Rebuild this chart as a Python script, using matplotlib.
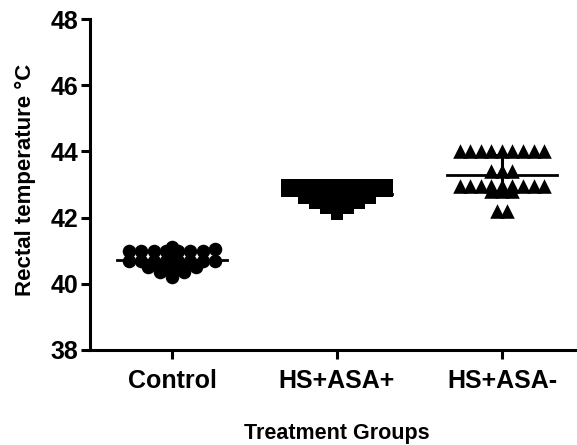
import numpy as np
import matplotlib
matplotlib.use("Agg")
import matplotlib.pyplot as plt

plt.rcParams['font.family'] = ['Liberation Sans', 'DejaVu Sans']
plt.rcParams['font.weight'] = 'bold'

groups = ['Control', 'HS+ASA+', 'HS+ASA-']
control = [41.1, 41.0, 41.0, 41.0, 41.0, 41.0, 41.0, 41.0, 41.05,
           40.7, 40.7, 40.7, 40.7, 40.7, 40.7, 40.7, 40.7,
           40.5, 40.5, 40.5, 40.5, 40.5,
           40.35, 40.35, 40.35,
           40.2]
hs_asa_pos = [43.0] * 10 + [42.8] * 10 + [42.6] * 7 + [42.45] * 5 + [42.3] * 3 + [42.1]
hs_asa_neg = [44.0] * 9 + [43.4] * 3 + [42.95] * 9 + [42.8] * 3 + [42.2] * 2
yticks = [38, 40, 42, 44, 46, 48]


def spread(vals, step, gap):
    # put equal (binned) values side by side, centred on the column
    vals = np.asarray(vals, dtype=float)
    bins = np.round(vals / step).astype(int)
    off = np.zeros(len(vals))
    for b in np.unique(bins):
        idx = np.where(bins == b)[0]
        n = len(idx)
        off[idx] = (np.arange(n) - (n - 1) / 2) * gap
    return off


fig = plt.figure(figsize=(5.77, 4.45), dpi=100)
ax = fig.add_axes([0.156, 0.2135, 0.844, 0.7435])

data = [control, hs_asa_pos, hs_asa_neg]
markers = ['o', 's', '^']
sizes = [95, 75, 110]
gaps = [0.074, 0.067, 0.064]
steps = [0.1, 0.1, 0.1]

for i, vals in enumerate(data):
    xs = i + spread(vals, steps[i], gaps[i])
    ax.scatter(xs, vals, marker=markers[i], s=sizes[i], c='black',
               linewidths=0, zorder=3)
    m = np.mean(vals)
    sd = np.std(vals, ddof=1)
    ax.plot([i - 0.335, i + 0.335], [m, m], color='black', lw=2, zorder=4)
    ax.plot([i, i], [m - sd, m + sd], color='black', lw=2.2, zorder=4)
    ax.plot([i - 0.08, i + 0.08], [m + sd, m + sd], color='black', lw=2, zorder=4)
    ax.plot([i - 0.08, i + 0.08], [m - sd, m - sd], color='black', lw=2, zorder=4)

ax.set_xlim(-0.497, 2.455)
ax.set_ylim(38, 48)
ax.set_yticks(yticks)
ax.set_xticks(range(len(groups)))
ax.set_xticklabels(groups)

for s in ['top', 'right']:
    ax.spines[s].set_visible(False)
for s in ['left', 'bottom']:
    ax.spines[s].set_linewidth(2.2)
ax.tick_params(width=2.2, length=6.5, labelsize=18, pad=2)
ax.tick_params(axis='x', pad=7)

fig.text(25 / 577, 1 - 180 / 445, 'Rectal temperature °C', rotation=90,
         ha='center', va='center', fontsize=16, fontweight='bold')
fig.text(337 / 577, 1 - 433 / 445, 'Treatment Groups',
         ha='center', va='center', fontsize=15.5, fontweight='bold')

fig.savefig('out.png', dpi=100)
